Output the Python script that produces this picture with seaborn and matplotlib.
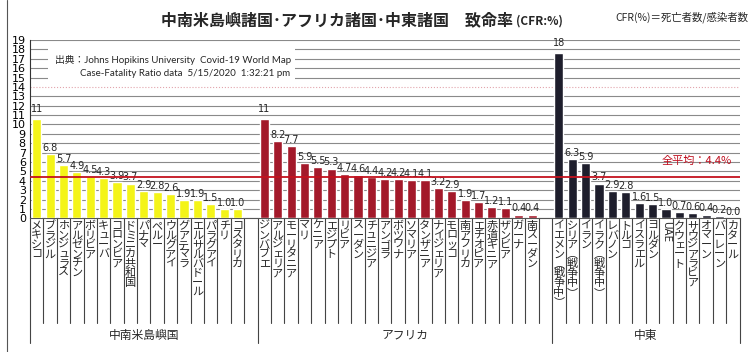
import numpy as np
import pandas as pd
import matplotlib
matplotlib.use("Agg")
import matplotlib.pyplot as plt
import matplotlib.transforms as mtransforms
from matplotlib.patches import Rectangle
from matplotlib.lines import Line2D
import seaborn as sns

# ---------------- data ----------------
latam = ["メキシコ", "ブラジル", "ホンジュラス", "アルゼンチン", "ボリビア", "キューバ",
         "コロンビア", "ドミニカ共和国", "パナマ", "ペルー", "ウルグアイ", "グアテマラ",
         "エルサルバドール", "パラグアイ", "チリ", "コスタリカ"]
latam_vals = [10.6, 6.8, 5.7, 4.9, 4.5, 4.3, 3.9, 3.7, 2.9, 2.8, 2.6, 1.9, 1.9, 1.5, 1.0, 1.0]

africa = ["ジンバブエ", "アルジェリア", "モーリタニア", "マリ", "ケニア", "エジプト", "リビア",
          "スーダン", "チュニジア", "アンゴラ", "ボツワナ", "ソマリア", "タンザニア",
          "ナイジェリア", "モロッコ", "南アフリカ", "エチオピア", "赤道ギニア", "ザンビア",
          "ガーナ", "南スーダン"]
africa_vals = [10.6, 8.2, 7.7, 5.9, 5.5, 5.3, 4.7, 4.6, 4.4, 4.2, 4.2, 4.1, 4.1,
               3.2, 2.9, 1.9, 1.7, 1.2, 1.1, 0.4, 0.4]

mideast = ["イエメン（戦争中）", "シリア（戦争中）", "イラン", "イラク（戦争中）", "レバノン",
           "トルコ", "イスラエル", "ヨルダン", "UAE", "クウェート", "サウジアラビア",
           "オマーン", "バーレーン", "カタール"]
mideast_vals = [17.6, 6.3, 5.9, 3.7, 2.9, 2.8, 1.6, 1.5, 1.0, 0.7, 0.6, 0.4, 0.2, 0.0]

group_names = ["中南米島嶼国", "アフリカ", "中東"]
group_colors = ["#f4f418", "#a3192a", "#1e1e2c"]
mean_cfr = 4.4
yticks = list(range(0, 20))

title_main = "中南米島嶼諸国･アフリカ諸国･中東諸国　致命率"
title_sub = "(CFR:%)"
formula = "CFR(%)＝死亡者数/感染者数"
source_1 = "出典：Johns Hopikins University  Covid-19 World Map"
source_2 = "Case-Fatality Ratio data  5/15/2020  1:32:21 pm"
mean_label = "全平均：4.4%"

# ---------------- frame ----------------
gap1, gap2 = " ", "  "
order = latam + [gap1] + africa + [gap2] + mideast
df = pd.DataFrame({
    "country": latam + africa + mideast,
    "cfr": latam_vals + africa_vals + mideast_vals,
    "region": [group_names[0]] * len(latam) + [group_names[1]] * len(africa)
              + [group_names[2]] * len(mideast),
})

sns.set_theme(style="white")
plt.rcParams["font.family"] = ["Noto Sans CJK JP", "DejaVu Sans"]

W, H = 750, 352
fig = plt.figure(figsize=(W / 100, H / 100), dpi=100)
fig.patch.set_facecolor("white")

x_left, x_right = 30, 739.6
y_zero, y_top = 218.3, 40.0
ax = fig.add_axes([x_left / W, 1 - y_zero / H, (x_right - x_left) / W, (y_zero - y_top) / H])
ax.set_facecolor("white")

sns.barplot(data=df, x="country", y="cfr", hue="region", order=order,
            hue_order=group_names, palette=group_colors, dodge=False,
            width=0.68, saturation=1, legend=False, ax=ax, zorder=3)

ax.set_xlim(-0.5, len(order) - 0.5)
ax.set_ylim(0, 19)
ax.set_xlabel("")
ax.set_ylabel("")

# gridlines
ax.set_yticks(yticks)
ax.set_yticklabels([str(t) for t in yticks], fontsize=8, family="DejaVu Sans")
ax.yaxis.grid(True, color="#8a8a8a", lw=0.8, zorder=0)
ax.set_axisbelow(True)
for i, gl in enumerate(ax.get_ygridlines()):
    if yticks[i] == 14:
        gl.set_color("#e2a4ac")
        gl.set_linestyle(":")
ax.tick_params(axis="y", length=2, pad=1, colors="black")
for s in ["top", "right"]:
    ax.spines[s].set_visible(False)
ax.spines["left"].set_color("#333333")
ax.spines["bottom"].set_color("#555555")
ax.spines["left"].set_linewidth(0.8)
ax.spines["bottom"].set_linewidth(0.8)

# vertical-writing category labels
trans = mtransforms.blended_transform_factory(ax.transData, ax.transAxes)
lab_y = (y_zero - 221) / (y_zero - y_top)

def vert(name):
    return "\n".join(name.replace("（", "︵").replace("）", "︶"))

ax.set_xticks(range(len(order)))
ax.set_xticklabels([""] * len(order))
ax.tick_params(axis="x", length=0)
for i, c in enumerate(order):
    if c.strip() == "":
        continue
    if c.isascii():
        ax.text(i, lab_y, c, transform=trans, ha="center", va="top", rotation=-90,
                fontsize=7.5, family="DejaVu Sans")
    else:
        ax.text(i, lab_y, vert(c), transform=trans, ha="center", va="top",
                fontsize=8, linespacing=0.93)

# value labels
for c, v in zip(df["country"], df["cfr"]):
    x = order.index(c)
    lab = f"{v:.0f}" if v >= 10 else f"{v:.1f}"
    ax.text(x, float(lab) + 0.12, lab, ha="center", va="bottom", fontsize=7,
            family="DejaVu Sans", zorder=5)

# mean line and label
ax.axhline(mean_cfr, color="#c4121e", lw=1.3, zorder=6)
ax.text(51.9, 6.1, mean_label, ha="right", va="center", color="#c01020", fontsize=8, zorder=6)

# separators under the axis
short_end = (y_zero - 323) / (y_zero - y_top)
long_end = (y_zero - 343) / (y_zero - y_top)
n = len(order)
long_pos = {-0.5, len(latam) + 0.5, len(latam) + 1 + len(africa) + 0.5, n - 0.5}
for k in range(-1, n):
    xb = k + 0.5
    end = long_end if xb in long_pos else short_end
    ax.add_line(Line2D([xb, xb], [0, end], transform=trans, color="#444444",
                       lw=0.8, clip_on=False))

# group labels
g_edges = [-0.5, len(latam) + 0.5, len(latam) + 1 + len(africa) + 0.5, n - 0.5]
g_y = (y_zero - 335) / (y_zero - y_top)
for i, g in enumerate(group_names):
    ax.text((g_edges[i] + g_edges[i + 1]) / 2, g_y, g, transform=trans,
            ha="center", va="center", fontsize=8.5)

# source box
fig.patches.append(Rectangle((48 / W, 1 - 84 / H), (295 - 48) / W, 40 / H,
                             transform=fig.transFigure, facecolor="white",
                             edgecolor="none", zorder=2))
fig.text(55 / W, 1 - 60 / H, source_1, fontsize=7, ha="left", va="center",
         family=["Lato", "Noto Sans CJK JP"], zorder=3)
fig.text(80 / W, 1 - 73 / H, source_2, fontsize=7, ha="left", va="center",
         family=["Lato", "Noto Sans CJK JP"], zorder=3)

# titles
fig.text(513 / W, 1 - 20 / H, title_main, fontsize=11.5, weight="bold", ha="right", va="center")
fig.text(516 / W, 1 - 21 / H, title_sub, fontsize=8.5, weight="bold", ha="left", va="center")
fig.text(748 / W, 1 - 17 / H, formula, fontsize=7.5, ha="right", va="center")

# outer left rule
fig.add_artist(Line2D([7 / W, 7 / W], [0, 1], transform=fig.transFigure,
                      color="#555555", lw=0.8))

fig.savefig("out.png", dpi=100, facecolor="white")
